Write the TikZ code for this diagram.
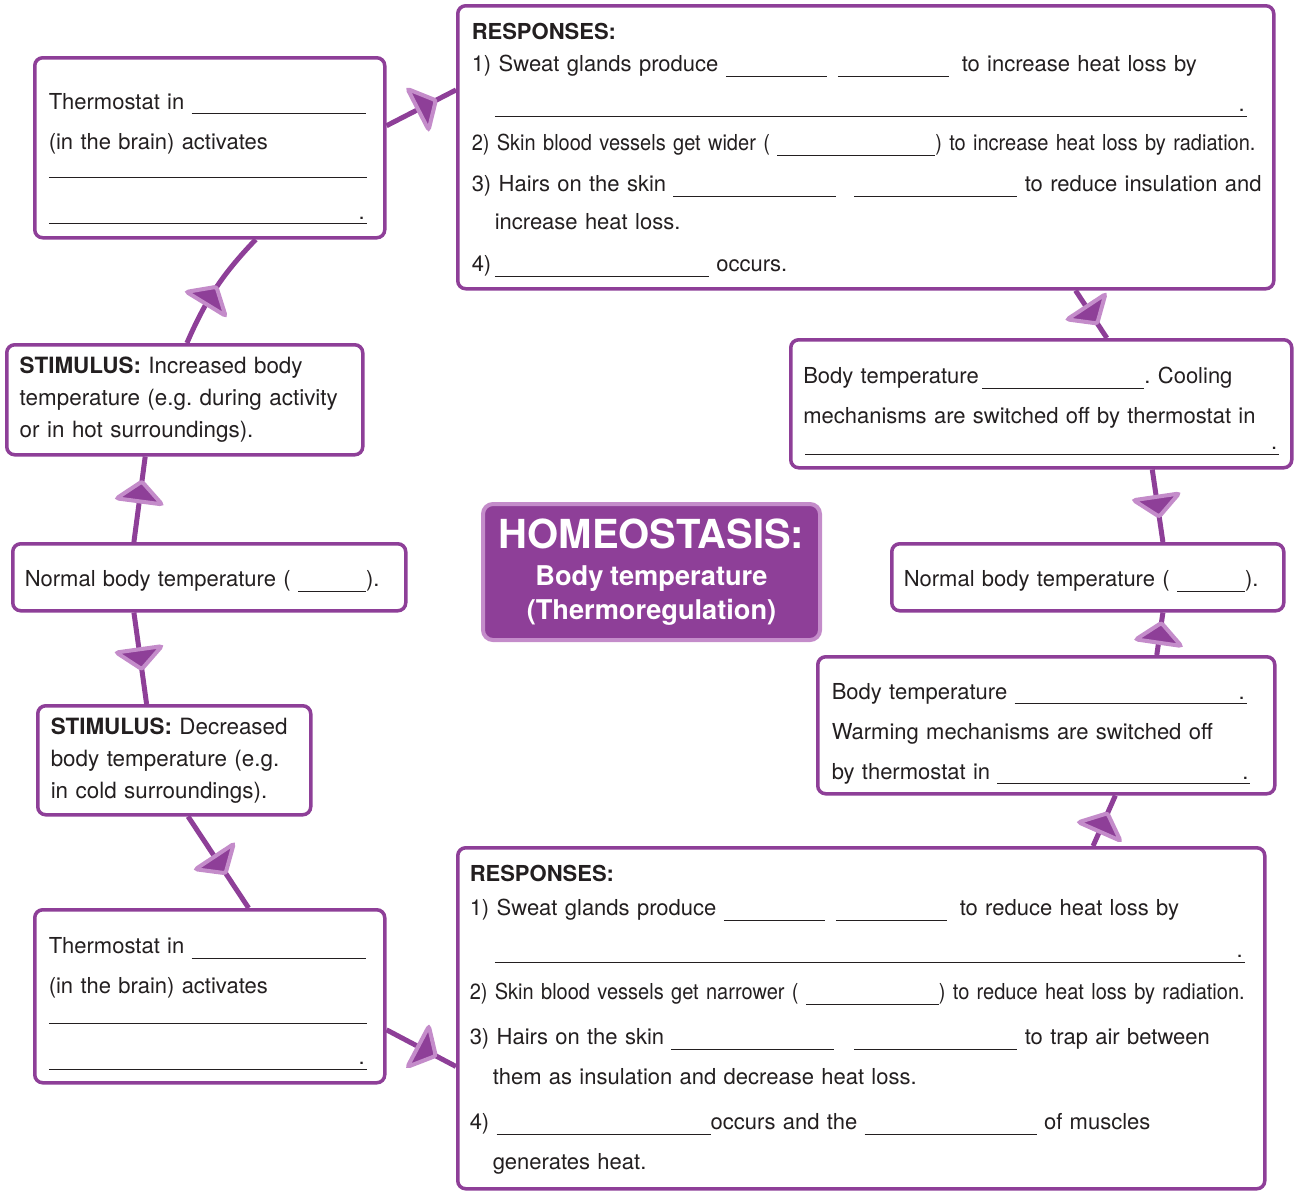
\documentclass[tikz,border=0pt]{standalone}
\usepackage{fontspec}
\setmainfont{TeX Gyre Heros}
\newfontfamily\narrowfont[FakeStretch=0.91]{TeX Gyre Heros}
\usetikzlibrary{calc,decorations.markings,backgrounds}
\definecolor{hpurple}{RGB}{142,63,152}
\definecolor{hlight}{RGB}{196,140,202}
\definecolor{hink}{RGB}{35,31,32}
\frenchspacing
\newcommand\bodyfont{\fontsize{11}{20}\selectfont}
\newcommand\stimfont{\fontsize{11.2}{16}\selectfont}
\newcommand\respfont{\fontsize{11}{21}\selectfont}
%% blanks to fill in (width in px)
\newcommand\gap[1]{\rule[-2.5pt]{\dimexpr #1pt/2\relax}{0.5pt}}
\newcommand\gapdot[1]{\leavevmode\rlap{\gap{#1}}\kern\dimexpr #1pt/2\relax\llap{.\kern1pt}}
%% arrow head sitting on the middle of a connector
\newcommand\flowtip{\filldraw[fill=hpurple,draw=hlight,line width=2pt,rounded corners=1.2pt] (5.5pt,0pt) -- (-4.5pt,11.5pt) -- (-4.5pt,-11.5pt) -- cycle;}
\begin{document}
\begin{tikzpicture}[x=0.5pt,y=-0.5pt,
    box/.style={draw=hpurple,line width=1.75pt,rounded corners=4pt,fill=white,anchor=north west,
      align=left,inner xsep=0pt,inner ysep=0pt,text=hink,font=\bodyfont},
    flow/.style={draw=hpurple,line width=2.5pt,
      postaction={decorate,decoration={markings,mark=at position #1 with {\flowtip}}}},
    flow/.default=0.5,
    title/.style={draw=hlight,line width=2pt,rounded corners=5pt,fill=hpurple,text=white,
      anchor=north west,align=center,inner sep=0pt}]
    \useasboundingbox (0,0) rectangle (1299,1191);

    %% Title
    \node[title,minimum width=168.5pt,minimum height=68pt,text width=168pt] (title) at (481,502)
      {\bfseries\fontsize{20}{20}\selectfont HOMEOSTASIS:\\[1.5pt]
       \fontsize{13.6}{17}\selectfont Body temperature\\[3pt](Thermoregulation)};

    %% Left: too hot
    \node[box,minimum width=175pt,minimum height=90pt,text width=161pt] (t1) at (33,56)
      {\rule{0pt}{19pt}Thermostat in \gap{174}\\
       (in the brain) activates\\[-8pt]
       \gap{318}\\[3pt]
       \gapdot{318}};
    \node[box,font=\stimfont,minimum width=178pt,minimum height=55pt,text width=165pt] (s1) at (5,343)
      {\textbf{STIMULUS:} Increased body\\
       temperature (e.g. during activity\\
       or in hot surroundings).};
    \node[box,minimum width=196.5pt,minimum height=33.5pt,text width=184.5pt] (n1) at (11,542)
      {\rule{0pt}{12pt}Normal body temperature ( \gap{68}).};

    %% Left: too cold
    \node[box,font=\stimfont,minimum width=136.5pt,minimum height=54.5pt,text width=123.5pt] (s2) at (36,704)
      {\textbf{STIMULUS:} Decreased\\
       body temperature (e.g.\\
       in cold surroundings).};
    \node[box,minimum width=175pt,minimum height=86.5pt,text width=161pt] (t2) at (33,908)
      {\rule{0pt}{15.7pt}Thermostat in \gap{174}\\
       (in the brain) activates\\[-7.5pt]
       \gap{318}\\[3pt]
       \gapdot{318}};

    %% Responses
    \node[box,minimum width=408pt,minimum height=141.5pt,text width=394pt] (r1) at (456,4)
      {\rule{0pt}{11pt}\mbox{\fontsize{11}{20}\selectfont\bfseries RESPONSES:}\\[-4pt]
       \mbox{1) Sweat glands produce \gap{101}\hspace{5.5pt}\gap{111}\hspace{6.5pt}to increase heat loss by}\\
       \hspace*{11.5pt}\gapdot{752}\\[-0.5pt]
       \mbox{\narrowfont 2) Skin blood vessels get wider ( \gap{158}) to increase heat loss by radiation.}\\[0.5pt]
       \mbox{3) Hairs on the skin \gap{163}\hspace{9pt}\gap{163} to reduce insulation and}\\[-1pt]
       \hspace*{11.5pt}increase heat loss.\\[1pt]
       4)\,\gap{214} occurs.};
    \node[box,font=\respfont,minimum width=403.5pt,minimum height=170.5pt,text width=391.5pt] (r2) at (456,846)
      {\rule{0pt}{10pt}\mbox{\fontsize{11}{20}\selectfont\bfseries RESPONSES:}\\[-4pt]
       \mbox{1) Sweat glands produce \gap{101}\hspace{5.5pt}\gap{111}\hspace{6.5pt}to reduce heat loss by}\\
       \hspace*{12.5pt}\gapdot{750}\\
       \mbox{\narrowfont 2) Skin blood vessels get narrower ( \gap{133}) to reduce heat loss by radiation.}\\[1.5pt]
       \mbox{3) Hairs on the skin \gap{163}\hspace{10pt}\gap{163} to trap air between}\\[-1pt]
       \hspace*{11.5pt}them as insulation and decrease heat loss.\\[1.5pt]
       \mbox{4) \gap{214}occurs and the \gap{172} of muscles}\\[-1pt]
       \hspace*{11.5pt}generates heat.};

    %% Right: back to normal
    \node[box,minimum width=250.5pt,minimum height=64pt,text width=238pt] (b1) at (789,338)
      {\rule{0pt}{15.7pt}Body temperature\,\gap{162}. Cooling\\
       mechanisms are switched off by thermostat in\\[-7pt]
       \hspace*{1pt}\gapdot{474}};
    \node[box,minimum width=196pt,minimum height=33.5pt,text width=184pt] (n2) at (890,542)
      {\rule{0pt}{12pt}Normal body temperature ( \gap{68}).};
    \node[box,minimum width=228.5pt,minimum height=68.5pt,text width=214.5pt] (b2) at (816,655)
      {\rule{0pt}{16.7pt}Body temperature \gapdot{232}\\
       Warming mechanisms are switched off\\
       by thermostat in \gapdot{253}};

    %% Connectors
    \begin{scope}[on background layer]
      \draw[flow=0.58] ($(n1.north west)!0.31!(n1.north east)$) -- ($(s1.south west)!0.39!(s1.south east)$);
      \draw[flow=0.42] ($(s1.north west)!0.506!(s1.north east)$) to[bend left=10] ($(t1.south west)!0.63!(t1.south east)$);
      \draw[flow=0.57] ($(t1.north east)!0.38!(t1.south east)$) -- ($(r1.north west)!0.3!(r1.south west)$);
      \draw[flow] ($(r1.south west)!0.756!(r1.south east)$) -- ($(b1.north west)!0.63!(b1.north east)$);
      \draw[flow] ($(b1.south west)!0.72!(b1.south east)$) -- ($(n2.north west)!0.69!(n2.north east)$);
      \draw[flow] ($(n1.south west)!0.31!(n1.south east)$) -- ($(s2.north west)!0.4!(s2.north east)$);
      \draw[flow=0.52] ($(s2.south west)!0.55!(s2.south east)$) -- ($(t2.north west)!0.61!(t2.north east)$);
      \draw[flow=0.57] ($(t2.north east)!0.69!(t2.south east)$) -- ($(r2.north west)!0.64!(r2.south west)$);
      \draw[flow=0.45] ($(r2.north west)!0.786!(r2.north east)$) -- ($(b2.south west)!0.65!(b2.south east)$);
      \draw[flow] ($(b2.north west)!0.74!(b2.north east)$) -- ($(n2.south west)!0.69!(n2.south east)$);
    \end{scope}
\end{tikzpicture}
\end{document}
